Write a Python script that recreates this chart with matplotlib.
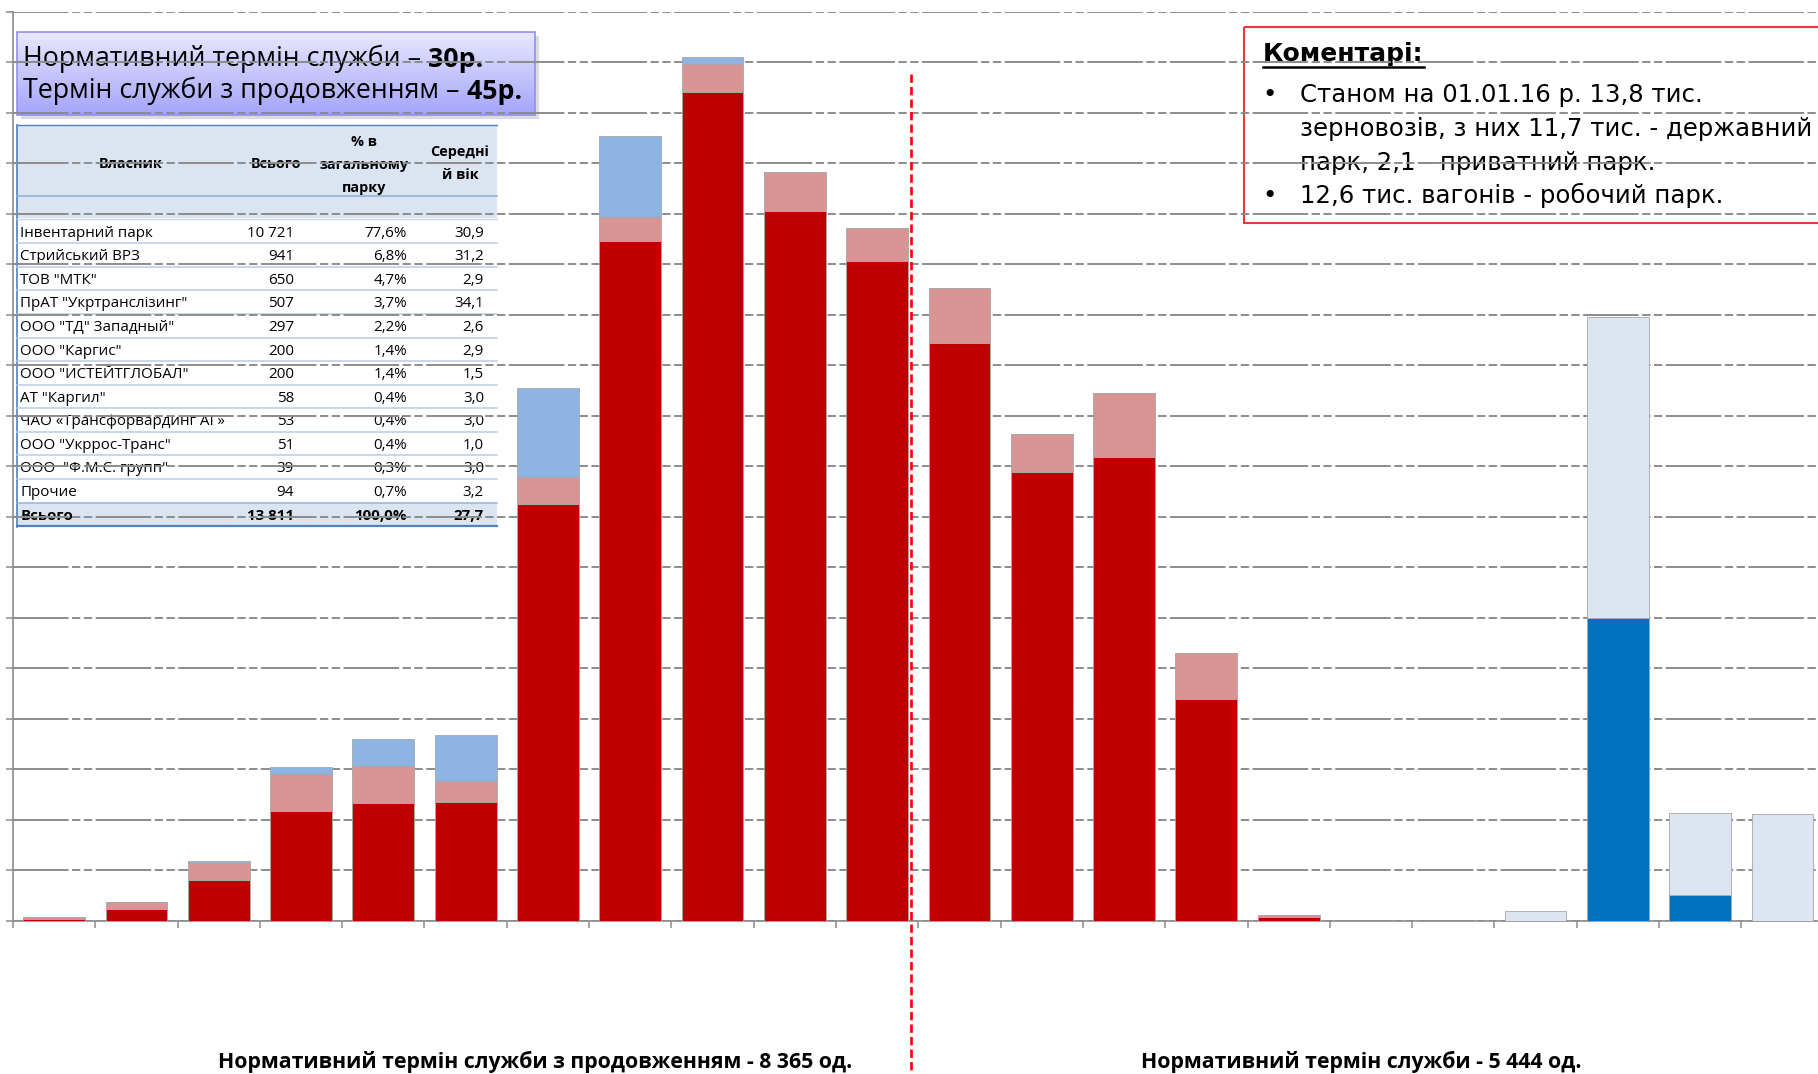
import numpy as np
import matplotlib
matplotlib.use("Agg")
import matplotlib.pyplot as plt
from matplotlib.patches import Rectangle
from matplotlib.colors import LinearSegmentedColormap

plt.rcParams['lines.scale_dashes'] = False

# ---------------- data (вагони за віковими групами) ----------------
red_part = [4, 24, 80, 217, 233, 236, 825, 1345, 1640, 1405, 1306, 1143, 888, 919, 439, 8, 0, 0, 0, 0, 0, 0]
pink_part = [3, 14, 35, 73, 74, 41, 53, 48, 57, 77, 66, 110, 75, 125, 91, 4, 0, 0, 0, 0, 0, 0]
blue_part = [0, 0, 3, 15, 52, 90, 176, 160, 13, 0, 0, 0, 0, 0, 0, 0, 0, 0, 0, 0, 0, 0]
navy_part = [0, 0, 0, 0, 0, 0, 0, 0, 0, 0, 0, 0, 0, 0, 0, 0, 0, 0, 0, 600, 50, 0]
pale_part = [0, 0, 0, 0, 0, 0, 0, 0, 0, 0, 0, 0, 0, 0, 0, 0, 0, 0, 20, 596, 164, 212]
n_left = 11  # групи з продовженим терміном (зліва від лінії)

owners = ['Інвентарний парк', 'Стрийський ВРЗ', 'ТОВ "МТК"', 'ПрАТ "Укртранслізинг"',
          'ООО "ТД" Западный"', 'ООО "Каргис"', 'ООО "ИСТЕЙТГЛОБАЛ"', 'АТ "Каргил"',
          'ЧАО «Трансфорвардинг АГ»', 'ООО "Укррос-Транс"', 'ООО  "Ф.М.С. групп"', 'Прочие']
owner_total = [10721, 941, 650, 507, 297, 200, 200, 58, 53, 51, 39, 94]
owner_share = [77.6, 6.8, 4.7, 3.7, 2.2, 1.4, 1.4, 0.4, 0.4, 0.4, 0.3, 0.7]
owner_age = [30.9, 31.2, 2.9, 34.1, 2.6, 2.9, 1.5, 3.0, 3.0, 1.0, 3.0, 3.2]
all_total, all_share, all_age = 13811, 100.0, 27.7

label_left = 'Нормативний термін служби з продовженням - 8 365 од.'
label_right = 'Нормативний термін служби - 5 444 од.'
comments = ['Станом на 01.01.16 р. 13,8 тис.',
            'зерновозів, з них 11,7 тис. - державний',
            'парк, 2,1 - приватний парк.',
            '12,6 тис. вагонів - робочий парк.']

W, H = 1818, 1074
SANS = ['Open Sans', 'DejaVu Sans']
TAHO = ['DejaVu Sans']


def fmt_int(v):
    return f"{v:,}".replace(',', ' ')


def fmt_dec(v):
    return f"{v:.1f}".replace('.', ',')


fig = plt.figure(figsize=(W / 100, H / 100), dpi=100)
fig.patch.set_facecolor('white')

# фон у піксельних координатах (під основними осями)
bg = fig.add_axes([0, 0, 1, 1], zorder=-1)
bg.set_xlim(0, W)
bg.set_ylim(H, 0)
bg.axis('off')

# ---------------- основний графік ----------------
ax = fig.add_axes([13 / W, 1 - 920.7 / H, 22 * 82.3 / W, 909.1 / H])
ax.set_facecolor('none')
x = np.arange(len(red_part))
w = 0.75
edge = dict(edgecolor='#a6a6a6', linewidth=0.6)

bottom = np.zeros(len(x))
for vals, col in [(red_part, '#c00000'), (pink_part, '#d99594'), (blue_part, '#8eb4e3')]:
    ax.bar(x, vals, w, bottom=bottom, color=col, **edge, zorder=3)
    bottom += np.array(vals)
bottom = np.zeros(len(x))
for vals, col in [(navy_part, '#0070c0'), (pale_part, '#dce6f2')]:
    v = np.array(vals)
    m = v > 0
    ax.bar(x[m], v[m], w, bottom=bottom[m], color=col, **edge, zorder=3)
    bottom += v

ax.set_xlim(-0.5, len(x) - 0.5)
ax.set_ylim(0, 1800)
ax.set_yticks(np.arange(0, 1801, 100))
ax.set_xticks(np.arange(-0.5, len(x), 1))
ax.set_xticklabels([])
ax.set_yticklabels([])
ax.tick_params(direction='out', length=5, width=1.1, color='#8c8c8c')
ax.set_axisbelow(True)
ax.grid(axis='y', color='#8c8c8c', lw=1.4, linestyle=(0, (40, 2.5, 6, 2.5, 6, 2.5)))
for s in ['top', 'right']:
    ax.spines[s].set_visible(False)
for s in ['left', 'bottom']:
    ax.spines[s].set_color('#8c8c8c')
    ax.spines[s].set_linewidth(1.2)

# розділова лінія
split = n_left - 0.5 - 0.09
ax.plot([split, split], [1676, -310], color='#ff0000', lw=1.9,
        linestyle=(0, (6, 3)), clip_on=False, zorder=5)

# ---------------- рамка з термінами ----------------
cm = LinearSegmentedColormap.from_list('lav', ['#e8e8ff', '#a4a4fa'])
grad = np.linspace(0, 1, 100).reshape(-1, 1)
bg.add_patch(Rectangle((21, 36), 518, 83, color='#9a9a9a', alpha=0.35, lw=0, zorder=0.5))
bg.imshow(grad, extent=(17, 535, 115, 32), cmap=cm, aspect='auto', zorder=1)
bg.add_patch(Rectangle((17, 32), 518, 83, fill=False, ec='#8f8ff5', lw=1.2, zorder=2))

t1 = bg.text(23, 66, 'Нормативний термін служби –', fontsize=19.3, family=SANS,
             va='baseline', zorder=3)
bg.annotate(' 30р.', xy=(1, 0), xycoords=t1, va='bottom', ha='left', fontsize=19.3,
            family=SANS, weight='bold', zorder=3)
t2 = bg.text(23, 98, 'Термін служби з продовженням –', fontsize=19.3, family=SANS,
             va='baseline', zorder=3)
bg.annotate(' 45р.', xy=(1, 0), xycoords=t2, va='bottom', ha='left', fontsize=19.3,
            family=SANS, weight='bold', zorder=3)

# ---------------- таблиця власників ----------------
tl, tr = 17, 497
bg.add_patch(Rectangle((tl, 125), tr - tl, 93, color='#dbe5f1', lw=0, zorder=1))
bg.add_patch(Rectangle((tl, 503), tr - tl, 23, color='#dbe5f1', lw=0, zorder=1))
bg.plot([tl, tr], [125, 125], color='#4f81bd', lw=1.0, zorder=2)
bg.plot([tl, tl], [125, 527], color='#4f81bd', lw=1.2, zorder=2)
bg.plot([tl, tr], [526, 526], color='#4f81bd', lw=1.6, zorder=2)
bg.plot([tl, tr], [196, 196], color='#95b3d7', lw=1.2, zorder=2)
bg.plot([tl, tr], [219, 219], color='#c5d5ea', lw=1.0, zorder=2)
for k in range(11):
    yy = 243.3 + 23.55 * k
    bg.plot([tl, tr], [yy, yy], color='#b8cce4', lw=1.1, zorder=2)
bg.plot([tl, tr], [502.5, 502.5], color='#95b3d7', lw=1.1, zorder=2)

hdr = dict(fontsize=10.4, family=SANS, weight='bold', ha='center', va='center', zorder=3)
bg.text(131, 164, 'Власник', **hdr)
bg.text(276, 164, 'Всього', **hdr)
bg.text(364, 142, '% в', **hdr)
bg.text(364, 165, 'загальному', **hdr)
bg.text(364, 188, 'парку', **hdr)
bg.text(460, 152, 'Середні', **hdr)
bg.text(460, 175, 'й вік', **hdr)

row = dict(fontsize=10.9, family=SANS, va='center', zorder=3)
for k in range(len(owners)):
    yy = 233.3 + 23.55 * k
    bg.text(20.5, yy, owners[k], ha='left', **row)
    bg.text(294, yy, fmt_int(owner_total[k]), ha='right', **row)
    bg.text(407, yy, fmt_dec(owner_share[k]) + '%', ha='right', **row)
    bg.text(484, yy, fmt_dec(owner_age[k]), ha='right', **row)
yy = 233.3 + 23.55 * len(owners)
bg.text(20.5, yy, 'Всього', ha='left', weight='bold', **row)
bg.text(294, yy, fmt_int(all_total), ha='right', weight='bold', **row)
bg.text(407, yy, fmt_dec(all_share) + '%', ha='right', weight='bold', **row)
bg.text(484, yy, fmt_dec(all_age), ha='right', weight='bold', **row)

# ---------------- коментарі ----------------
bg.add_patch(Rectangle((1244, 27), 700, 196, fill=False, ec='#e8383d', lw=1.5, zorder=2))
tc = bg.text(1263, 61, 'Коментарі:', fontsize=18, family=TAHO, weight='bold',
             va='baseline', zorder=3)
for yy, line in zip([102, 136, 170, 203], comments):
    bg.text(1300, yy, line, fontsize=17.6, family=TAHO, va='baseline', zorder=3)
for yy in [102, 203]:
    bg.text(1270, yy, '•', fontsize=17.6, family=TAHO, va='baseline', ha='center', zorder=3)

# ---------------- підписи груп ----------------
bot = dict(fontsize=15.3, family=SANS, weight='bold', ha='center', va='center')
bg.text(535, 1062, label_left, **bot)
bg.text(1361, 1062, label_right, **bot)

# підкреслення заголовка коментарів
fig.canvas.draw()
bb = tc.get_window_extent()
inv = bg.transData.inverted()
(ux0, _), (ux1, _) = inv.transform([[bb.x0, bb.y0], [bb.x1, bb.y0]])
bg.plot([ux0, ux1], [67, 67], color='black', lw=1.8, zorder=3)

fig.savefig('out.png', dpi=100)
